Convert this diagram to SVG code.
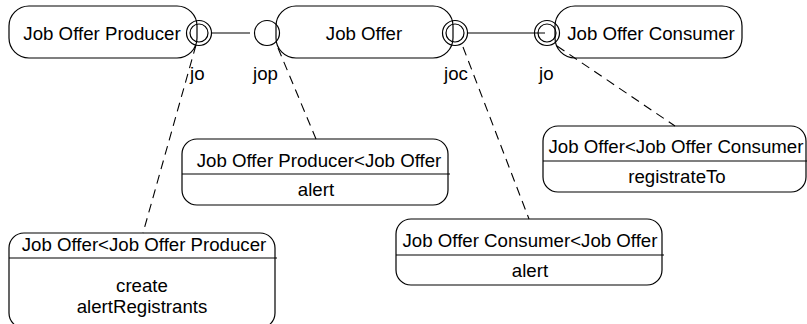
<svg xmlns="http://www.w3.org/2000/svg" width="807" height="324" viewBox="0 0 807 324">
<style>
.n{fill:none;stroke:#000;stroke-width:1.2}
.t{font-family:"Liberation Sans",Arial,sans-serif;font-size:18.67px;fill:#000}
.m{text-anchor:middle}
.c{fill:none;stroke:#000;stroke-width:1.2}
.d{fill:none;stroke:#000;stroke-width:1.1;stroke-dasharray:9,6}
.p{fill:none;stroke:#000;stroke-width:1.2}
</style>
<rect width="807" height="324" fill="#fff"/>
<g id="connectors">
<line class="c" x1="212" y1="33" x2="250" y2="33"/>
<line class="c" x1="468" y1="33" x2="545" y2="33"/>
<line class="d" x1="196" y1="45" x2="143" y2="233"/>
<line class="d" x1="278" y1="48" x2="316" y2="139"/>
<line class="d" x1="463" y1="47" x2="529" y2="219"/>
<line class="d" x1="557" y1="46" x2="675" y2="126"/>
</g>
<g id="node-producer">
<rect class="n" x="9" y="6" width="188" height="52" rx="20" ry="20"/>
<text class="t m" x="102" y="40">Job Offer Producer</text>
</g>
<g id="node-joboffer">
<rect class="n" x="276" y="6" width="177" height="52" rx="20" ry="20"/>
<text class="t m" x="364" y="40">Job Offer</text>
</g>
<g id="node-consumer">
<rect class="n" x="555" y="6" width="187" height="52" rx="20" ry="20"/>
<text class="t m" x="651" y="40">Job Offer Consumer</text>
</g>
<g id="port-producer-jo">
<circle class="p" cx="199" cy="33" r="12.5"/>
<circle class="p" cx="199" cy="33" r="9"/>
<text class="t" x="190" y="80">jo</text>
</g>
<g id="port-joboffer-jop">
<circle class="p" cx="267" cy="33" r="12.5"/>
<text class="t" x="253" y="80">jop</text>
</g>
<g id="port-joboffer-joc">
<circle class="p" cx="455" cy="33" r="12.5"/>
<circle class="p" cx="455" cy="33" r="9"/>
<text class="t" x="444" y="80">joc</text>
</g>
<g id="port-consumer-jo">
<circle class="p" cx="547" cy="33" r="12.5"/>
<circle class="p" cx="547" cy="33" r="9"/>
<text class="t" x="539" y="80">jo</text>
</g>
<g id="box-producer-joboffer">
<rect class="n" x="182" y="139" width="266" height="66" rx="15" ry="15"/>
<line class="n" x1="182" y1="174" x2="450" y2="174"/>
<text class="t m" x="319" y="167">Job Offer Producer&lt;Job Offer</text>
<text class="t m" x="316" y="196">alert</text>
</g>
<g id="box-joboffer-producer">
<rect class="n" x="9" y="233" width="266" height="95" rx="15" ry="15"/>
<line class="n" x1="9" y1="258" x2="277" y2="258"/>
<text class="t m" x="144" y="251">Job Offer&lt;Job Offer Producer</text>
<text class="t m" x="142" y="292">create</text>
<text class="t m" x="142" y="313">alertRegistrants</text>
</g>
<g id="box-consumer-joboffer">
<rect class="n" x="396" y="219" width="266" height="66" rx="15" ry="15"/>
<line class="n" x1="396" y1="255" x2="664" y2="255"/>
<text class="t m" x="530" y="247">Job Offer Consumer&lt;Job Offer</text>
<text class="t m" x="530" y="277">alert</text>
</g>
<g id="box-joboffer-consumer">
<rect class="n" x="543" y="126" width="263" height="66" rx="15" ry="15"/>
<line class="n" x1="543" y1="161" x2="807" y2="161"/>
<text class="t m" x="676" y="153">Job Offer&lt;Job Offer Consumer</text>
<text class="t m" x="677" y="183">registrateTo</text>
</g>
</svg>
